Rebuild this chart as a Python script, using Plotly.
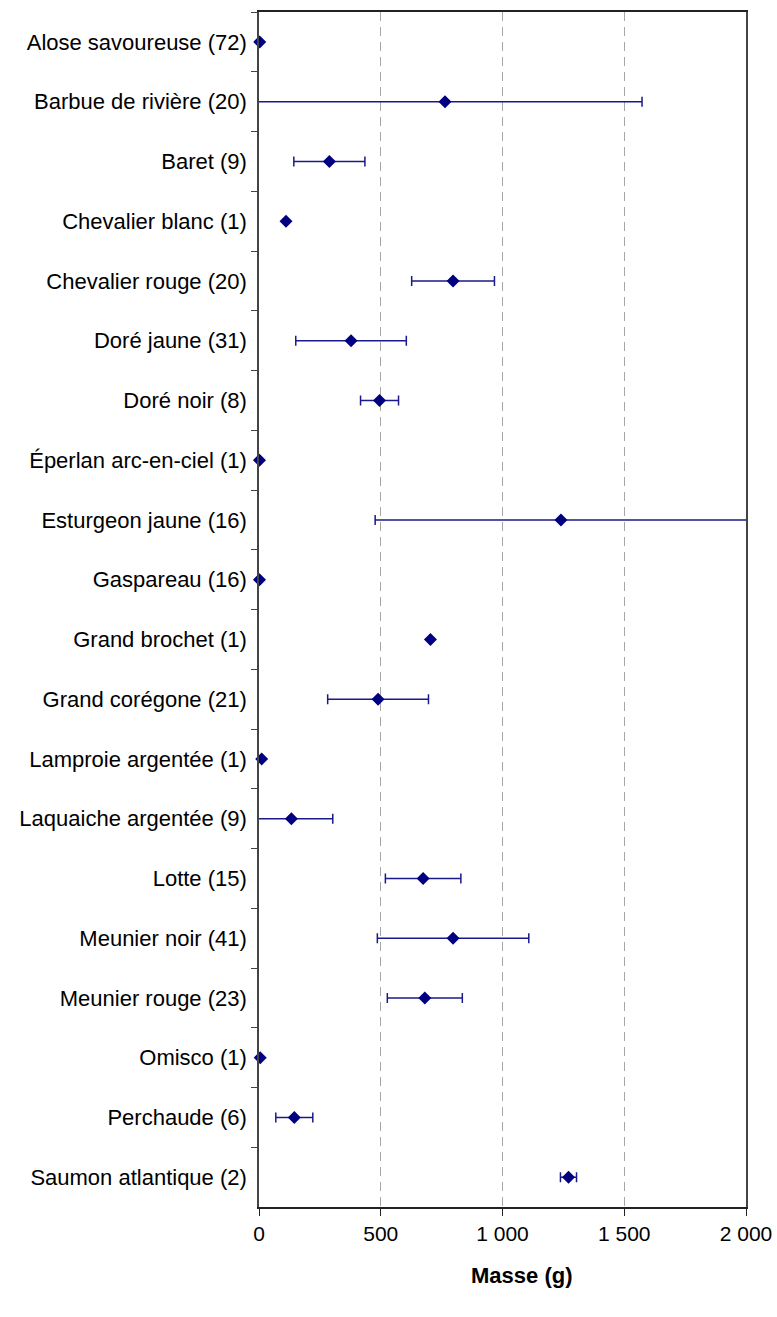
import plotly.graph_objects as go

species = [
    "Alose savoureuse (72)", "Barbue de rivière (20)", "Baret (9)", "Chevalier blanc (1)",
    "Chevalier rouge (20)", "Doré jaune (31)", "Doré noir (8)", "Éperlan arc-en-ciel (1)",
    "Esturgeon jaune (16)", "Gaspareau (16)", "Grand brochet (1)", "Grand corégone (21)",
    "Lamproie argentée (1)", "Laquaiche argentée (9)", "Lotte (15)", "Meunier noir (41)",
    "Meunier rouge (23)", "Omisco (1)", "Perchaude (6)", "Saumon atlantique (2)",
]
mean_mass = [3, 764, 289, 111, 797, 378, 495, 2, 1240, 2, 704, 489, 11, 133, 674, 797, 681, 5, 145, 1271]
sd_mass = [0, 809, 146, 0, 170, 227, 78, 0, 763, 0, 0, 207, 0, 170, 155, 311, 154, 0, 76, 33]

x_ticks = [0, 500, 1000, 1500, 2000]

fig = go.Figure()
fig.add_trace(go.Scatter(
    x=mean_mass, y=species, mode="markers",
    marker=dict(symbol="diamond", size=10, color="#000080"),
    error_x=dict(type="data", array=sd_mass, visible=True, color="#1a1a8a", thickness=1.5, width=5),
    cliponaxis=False,
    showlegend=False,
))

fig.update_layout(
    width=777, height=1317,
    margin=dict(l=259, r=31, t=12, b=110),
    paper_bgcolor="white", plot_bgcolor="white",
    font=dict(family="Liberation Sans, Arial, sans-serif", size=21, color="black"),
    separators=", ",
    annotations=[dict(
        text="<b>Masse (g)</b>", xref="paper", yref="paper", x=0.54, y=-0.0577,
        xanchor="center", yanchor="middle", showarrow=False,
        font=dict(size=22, color="black"),
    )],
)
fig.update_xaxes(
    range=[0, 2000], tickvals=x_ticks, tickformat=",d",
    showgrid=True, gridcolor="#a6a6a6", griddash="9px,6px", gridwidth=1,
    zeroline=False, automargin=False,
    showline=True, linecolor="#222222", linewidth=1.5, mirror=True,
    ticks="outside", ticklen=7, tickcolor="#222222", tickwidth=1,
    tickfont=dict(size=21),
)
fig.update_yaxes(
    categoryorder="array", categoryarray=species, range=[19.5, -0.5],
    showgrid=False, zeroline=False, automargin=False,
    showline=True, linecolor="#444444", linewidth=1.5, mirror=True,
    ticks="outside", tickson="boundaries", ticklen=6, tickcolor="#444444",
    ticklabelstandoff=6, tickfont=dict(size=22),
)

fig.write_html("out.html")
